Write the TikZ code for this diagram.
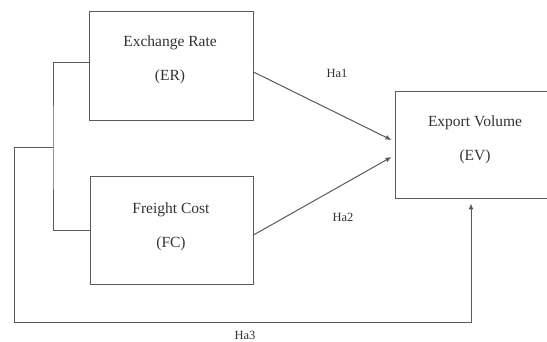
\documentclass[tikz,border=0pt]{standalone}
\usepackage{fontspec}
\setmainfont{Liberation Serif}
\usetikzlibrary{arrows.meta}
\begin{document}
\begin{tikzpicture}[x=1pt,y=-1pt,
  boxshape/.style={draw=black!65,line width=1pt,inner sep=0pt},
  boxtext/.style={align=center,text=black!80,font=\fontsize{15.5}{34}\selectfont},
  hlabel/.style={text=black!80,font=\fontsize{12.5}{14}\selectfont,inner sep=1pt},
  conn/.style={draw=black!65,line width=1pt},
  arr/.style={conn,-{Latex[length=6pt,width=5pt]}}]
\useasboundingbox (0,0) rectangle (547,342);
\clip (0,0) rectangle (547,342);
% boxes
\node[boxshape,minimum width=164pt,minimum height=109pt] (er) at (171,66.5) {};
\node[boxtext] (ertext) at (170,60) {Exchange Rate\\(ER)};
\node[boxshape,minimum width=163pt,minimum height=108pt] (fc) at (171.5,231) {};
\node[boxtext] (fctext) at (171,227) {Freight Cost\\(FC)};
\node[boxshape,minimum width=160pt,minimum height=107pt] (ev) at (475,145.5) {};
\node[boxtext] (evtext) at (475,139.5) {Export Volume\\(EV)};
% labels
\node[hlabel] (ha1) at (337,73) {Ha1};
\node[hlabel] (ha2) at (343,217) {Ha2};
\node[hlabel] (ha3) at (245,335.5) {Ha3};
% bracket joining ER and FC
\coordinate (j) at (53,148);
\draw[conn] ([yshift=3.5pt]er.west) -| (j) |- (fc.west);
% Ha3 path
\draw[arr] (j) -- (14,148) |- (471,322) -- ([xshift=-4pt,yshift=-4pt]ev.south);
% Ha1, Ha2
\draw[arr] ([yshift=-5.5pt]er.east) -- ([xshift=-3pt,yshift=5.5pt]ev.west);
\draw[arr] ([yshift=-4pt]fc.east) -- ([xshift=-3pt,yshift=-11.5pt]ev.west);
\end{tikzpicture}
\end{document}
